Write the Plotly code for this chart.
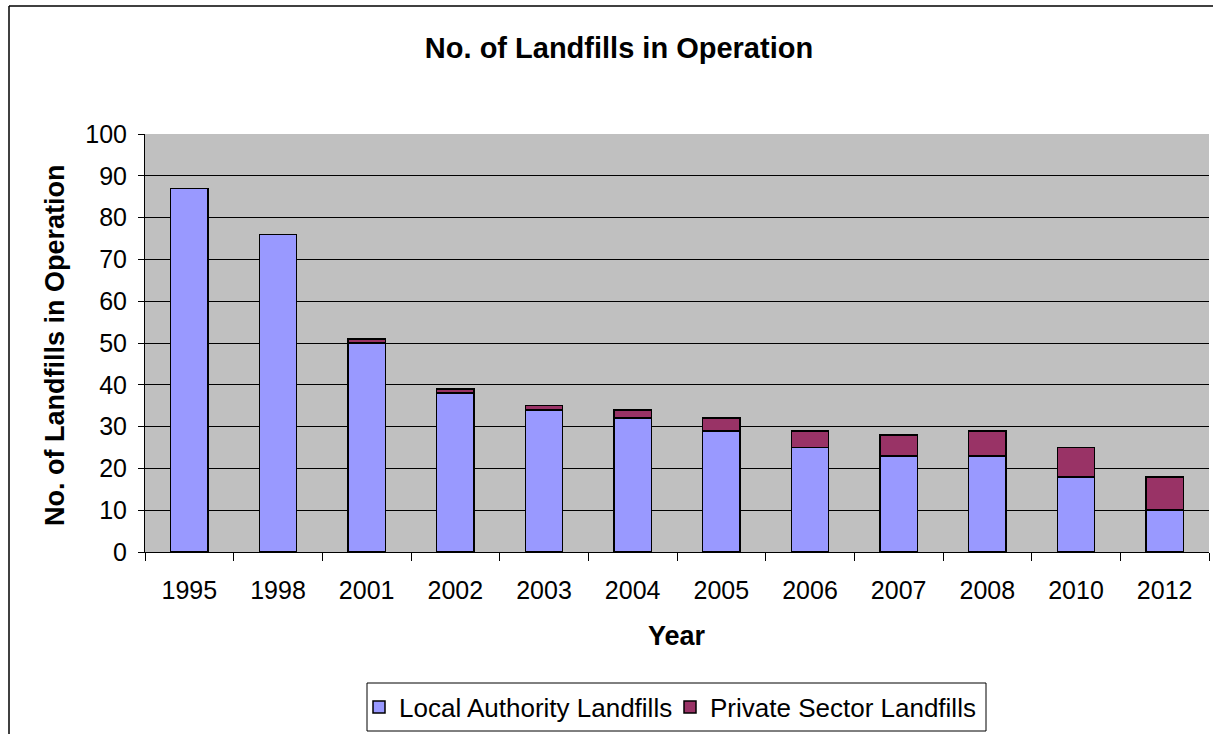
import plotly.graph_objects as go

years = ["1995", "1998", "2001", "2002", "2003", "2004", "2005", "2006", "2007", "2008", "2010", "2012"]
local_authority = [87, 76, 50, 38, 34, 32, 29, 25, 23, 23, 18, 10]
private_sector = [0, 0, 1, 1, 1, 2, 3, 4, 5, 6, 7, 8]

FONT = "Liberation Sans, Arial, sans-serif"

fig = go.Figure()
fig.add_trace(go.Bar(
    x=years, y=local_authority, name="Local Authority Landfills",
    marker=dict(color="#9999FF", line=dict(color="black", width=1.5)),
    width=0.42, legend="legend",
))
fig.add_trace(go.Bar(
    x=years, y=private_sector, name="Private Sector Landfills",
    marker=dict(color="#993366", line=dict(color="black", width=1.5)),
    width=0.42, legend="legend2",
))

W, H = 1213, 734
L, R, T, B = 145, 4, 134, 182
pw = W - L - R
ph = H - T - B

def px(x):
    return (x - L) / pw

def py(y):
    return (H - B - y) / ph

leg_common = dict(orientation="h", xanchor="left", y=py(707), yanchor="middle",
                  borderwidth=0, bgcolor="rgba(0,0,0,0)", font=dict(size=26), itemwidth=30)

fig.update_layout(
    width=W, height=H,
    margin=dict(l=L, r=R, t=T, b=B, autoexpand=False),
    barmode="stack",
    paper_bgcolor="white",
    plot_bgcolor="#C0C0C0",
    font=dict(family=FONT, color="black", size=25),
    title=dict(text="<b>No. of Landfills in Operation</b>", x=px(619), xref="paper", xanchor="center",
               y=1 - 48 / H, yref="container", yanchor="middle",
               font=dict(size=29, family=FONT, color="black")),
    xaxis=dict(type="category", showline=True, linecolor="black", linewidth=1,
               ticks="outside", ticklen=8, tickcolor="black", tickson="boundaries",
               tickfont=dict(size=25), ticklabelstandoff=16),
    yaxis=dict(range=[0, 100], dtick=10, showgrid=True, gridcolor="black", gridwidth=1,
               showline=True, linecolor="black", linewidth=1,
               ticks="outside", ticklen=6, tickcolor="black",
               tickfont=dict(size=25), ticklabelstandoff=6, zeroline=False),
    legend=dict(x=px(359), **leg_common),
    legend2=dict(x=px(670), **leg_common),
    showlegend=True,
    annotations=[
        dict(text="<b>Year</b>", x=px(677), y=py(636), xref="paper", yref="paper",
             showarrow=False, font=dict(size=27), xanchor="center", yanchor="middle"),
        dict(text="<b>No. of Landfills in Operation</b>", x=px(55), y=py(345), xref="paper", yref="paper",
             showarrow=False, textangle=-90, font=dict(size=27), xanchor="center", yanchor="middle"),
    ],
    shapes=[
        dict(type="line", xref="paper", yref="paper", x0=px(9), x1=px(9), y0=py(6), y1=py(H + 5),
             line=dict(color="black", width=1.5)),
        dict(type="line", xref="paper", yref="paper", x0=px(9), x1=px(W + 5), y0=py(6), y1=py(6),
             line=dict(color="black", width=1.5)),
        dict(type="rect", xref="paper", yref="paper", x0=px(367), x1=px(986), y0=py(683), y1=py(731),
             line=dict(color="black", width=1), fillcolor="white", layer="below"),
    ],
)

fig.write_html("out.html", config={"displayModeBar": False},
               post_script="document.body.style.margin='0';document.body.style.overflow='hidden';")
